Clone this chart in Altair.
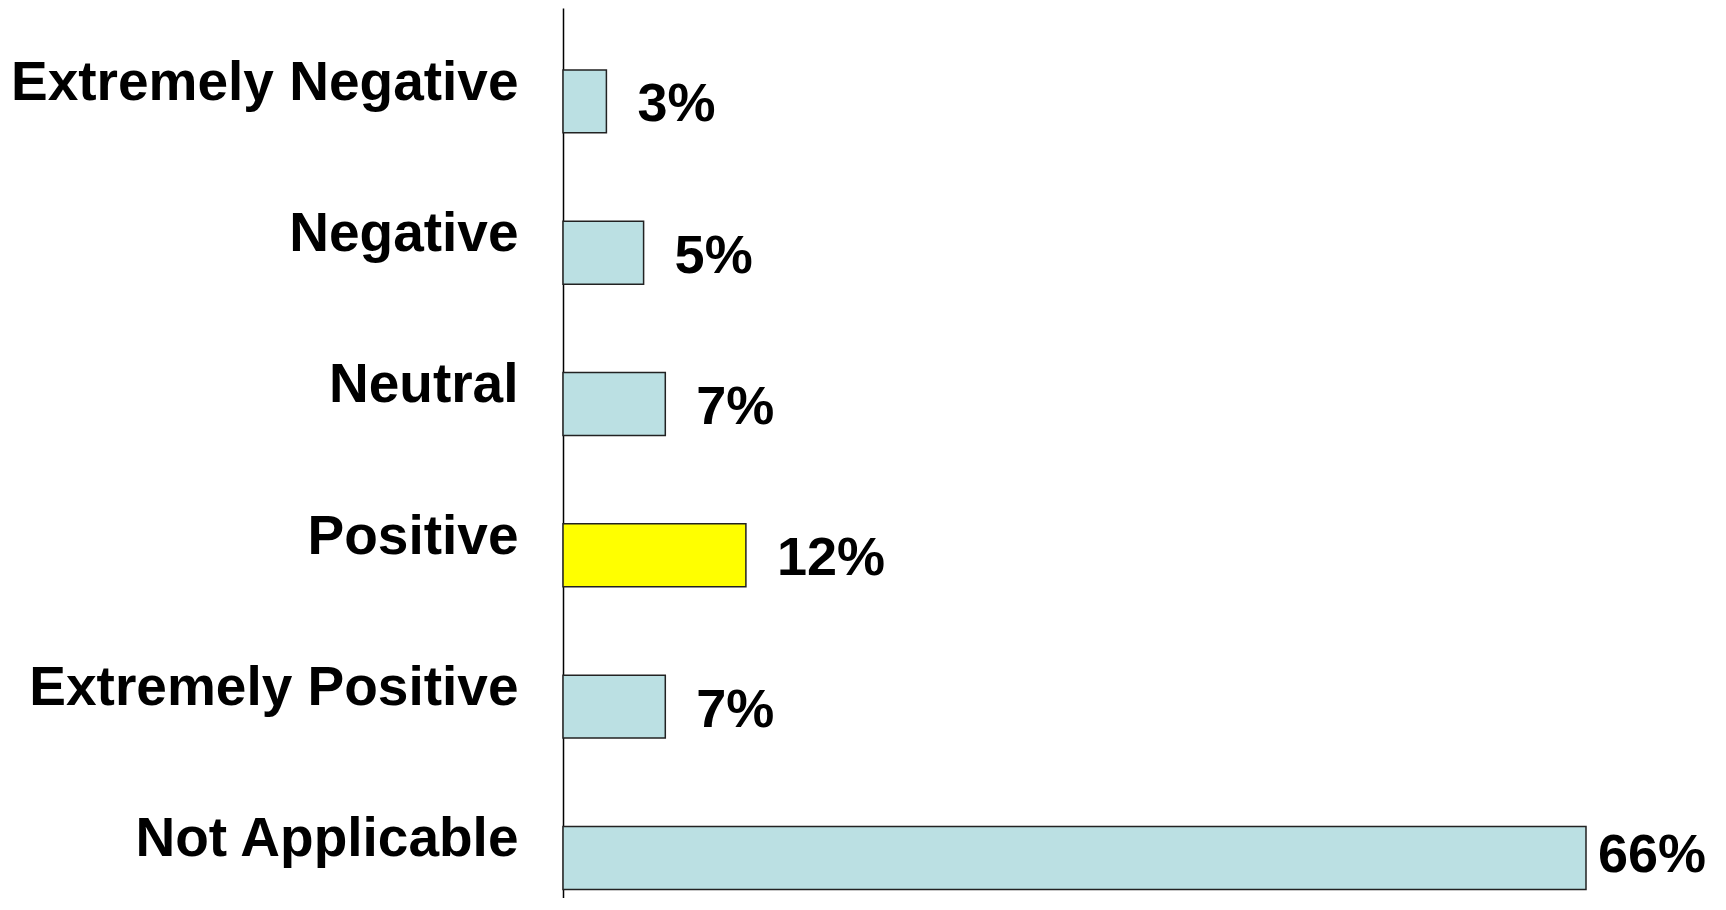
import altair as alt
import pandas as pd

categories = ["Extremely Negative", "Negative", "Neutral", "Positive",
              "Extremely Positive", "Not Applicable"]
values = [2.8, 5.2, 6.6, 11.8, 6.6, 66.0]
labels = ["3%", "5%", "7%", "12%", "7%", "66%"]
highlight = ["base", "base", "base", "hi", "base", "base"]

df = pd.DataFrame({"cat": categories, "value": values, "label": labels, "hl": highlight})

FONT = "Liberation Sans"

y_enc = alt.Y("cat:N", sort=categories,
              scale=alt.Scale(paddingInner=0.584, paddingOuter=0.233, align=0.878),
              axis=alt.Axis(title=None, domain=True, domainColor="black", domainWidth=1.5,
                            ticks=False, labelFont=FONT, labelFontSize=55,
                            labelFontWeight="bold", labelColor="black", labelPadding=45,
                            labelLimit=0, labelBaseline="alphabetic", labelOffset=-1.5,
                            grid=False))
x_enc = alt.X("value:Q", scale=alt.Scale(domain=[0, 70], nice=False, zero=True), axis=None)

bars = alt.Chart(df).mark_bar(stroke="#222222", strokeWidth=1.5, cornerRadius=0).encode(
    x=x_enc, y=y_enc,
    color=alt.Color("hl:N", scale=alt.Scale(domain=["base", "hi"], range=["#BBE0E3", "#FFFF00"]),
                    legend=None),
)

txt_small = alt.Chart(df).transform_filter("datum.value < 50").mark_text(
    align="left", baseline="alphabetic", dx=31, dy=20, font=FONT, fontSize=54,
    fontWeight="bold", color="black").encode(x=x_enc, y=y_enc, text="label:N")

txt_big = alt.Chart(df).transform_filter("datum.value >= 50").mark_text(
    align="left", baseline="alphabetic", dx=12, dy=14, font=FONT, fontSize=54,
    fontWeight="bold", color="black").encode(x=x_enc, y=y_enc, text="label:N")

chart = alt.layer(bars, txt_small, txt_big).properties(
    width=1085, height=890,
    autosize=alt.AutoSizeParams(type="none"),
    padding={"left": 555, "top": 0, "right": 70, "bottom": 0},
    background="white",
).configure_view(strokeWidth=0, stroke="transparent")

chart.save("out.html", embed_options={"renderer": "svg", "actions": False})
